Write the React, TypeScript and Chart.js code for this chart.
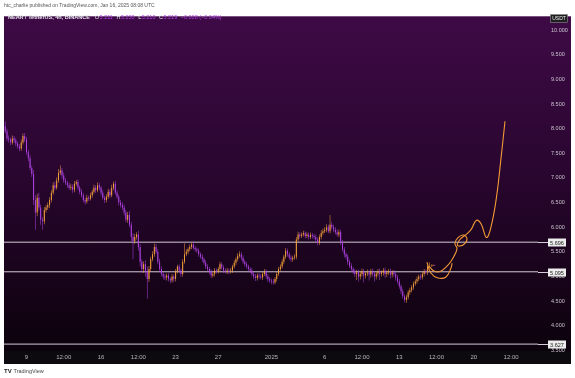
import React, { useEffect, useRef } from 'react';
import { Chart, registerables } from 'chart.js';

Chart.register(...registerables);

// ---- time axis: days counted from Dec 0, 2024 (Jan 1 = 32) ----
const START_DAY = 7; // first candle: Dec 7, 2024 00:00
const CANDLE_STEP = 1 / 6; // 4h candles
const X_MIN = 6.887;
const X_MAX = 57.028;
const Y_MIN = 3.487;
const Y_MAX = 10.281;

const FIRST_OPEN = 8.05;

// closes, one row per day (6 x 4h candles)
const closes = [
  7.95, 7.80, 7.78, 7.72, 7.80, 7.76,
  7.70, 7.64, 7.60, 7.72, 7.85, 7.78,
  7.52, 7.40, 7.20, 7.08, 6.55, 6.30,
  6.60, 6.40, 6.15, 6.12, 6.35, 6.40,
  6.45, 6.55, 6.70, 6.85, 6.80, 6.95,
  7.10, 7.15, 7.05, 6.95, 6.90, 6.85,
  6.80, 6.82, 6.76, 6.88, 6.92, 6.80,
  6.72, 6.65, 6.55, 6.52, 6.60, 6.58,
  6.65, 6.72, 6.80, 6.75, 6.85, 6.80,
  6.70, 6.60, 6.55, 6.62, 6.72, 6.65,
  6.80, 6.88, 6.70, 6.62, 6.50, 6.45,
  6.40, 6.30, 6.15, 6.25, 6.05, 5.80,
  5.72, 5.80, 5.85, 5.60, 5.30, 5.15,
  5.25, 5.10, 4.95, 5.15, 5.35, 5.45,
  5.60, 5.50, 5.30, 5.15, 5.05, 5.00,
  4.98, 5.02, 4.95, 4.92, 5.00, 4.95,
  5.10, 5.20, 5.12, 5.05, 5.30, 5.45,
  5.50, 5.55, 5.60, 5.65, 5.58, 5.55,
  5.52, 5.45, 5.40, 5.35, 5.28, 5.20,
  5.15, 5.10, 5.02, 5.05, 5.12, 5.10,
  5.15, 5.25, 5.18, 5.12, 5.10, 5.12,
  5.10, 5.12, 5.20, 5.28, 5.35, 5.42,
  5.45, 5.38, 5.30, 5.25, 5.20, 5.15,
  5.12, 5.05, 5.00, 4.97, 5.02, 5.00,
  4.98, 5.05, 5.10, 5.00, 4.95, 4.92,
  4.90, 4.88, 4.95, 5.05, 5.15, 5.20,
  5.30, 5.40, 5.52, 5.45, 5.38, 5.35,
  5.38, 5.40, 5.75, 5.85, 5.82, 5.85,
  5.88, 5.82, 5.85, 5.80, 5.84, 5.82,
  5.80, 5.75, 5.68, 5.80, 5.88, 5.92,
  5.95, 6.00, 5.92, 6.05, 6.00, 5.95,
  5.90, 5.85, 5.90, 5.70, 5.55, 5.45,
  5.40, 5.30, 5.22, 5.15, 5.10, 5.05,
  5.08, 5.00, 5.05, 5.10, 5.02, 5.06,
  5.08, 5.04, 5.10, 5.05, 5.00, 5.06,
  5.10, 5.05, 5.08, 5.12, 5.05, 5.08,
  5.10, 5.04, 5.08, 5.05, 4.98, 4.90,
  4.80, 4.70, 4.60, 4.52, 4.58, 4.68,
  4.72, 4.78, 4.85, 4.90, 4.95, 5.00,
  4.98, 5.05, 5.10, 5.08, 5.20, 5.211,
  5.22, 5.227, 5.219,
];

// upper wick length above the body
const wickUp = [
  0.10, 0.05, 0.06, 0.04, 0.06, 0.05,
  0.05, 0.04, 0.05, 0.06, 0.05, 0.06,
  0.05, 0.05, 0.06, 0.05, 0.08, 0.10,
  0.08, 0.10, 0.06, 0.05, 0.06, 0.05,
  0.05, 0.06, 0.05, 0.06, 0.08, 0.06,
  0.08, 0.10, 0.05, 0.06, 0.05, 0.04,
  0.05, 0.06, 0.05, 0.06, 0.04, 0.05,
  0.04, 0.05, 0.04, 0.05, 0.06, 0.04,
  0.05, 0.04, 0.06, 0.05, 0.06, 0.05,
  0.04, 0.05, 0.04, 0.05, 0.06, 0.05,
  0.06, 0.05, 0.06, 0.05, 0.04, 0.05,
  0.05, 0.06, 0.05, 0.06, 0.08, 0.06,
  0.08, 0.06, 0.05, 0.08, 0.06, 0.05,
  0.06, 0.08, 0.10, 0.06, 0.05, 0.06,
  0.07, 0.06, 0.05, 0.06, 0.05, 0.04,
  0.05, 0.04, 0.05, 0.04, 0.05, 0.04,
  0.05, 0.04, 0.05, 0.04, 0.05, 0.22,
  0.05, 0.04, 0.05, 0.04, 0.05, 0.04,
  0.04, 0.05, 0.04, 0.05, 0.04, 0.05,
  0.05, 0.04, 0.05, 0.04, 0.05, 0.04,
  0.04, 0.05, 0.04, 0.05, 0.04, 0.05,
  0.04, 0.05, 0.04, 0.05, 0.04, 0.05,
  0.06, 0.04, 0.05, 0.04, 0.05, 0.04,
  0.04, 0.05, 0.04, 0.05, 0.04, 0.05,
  0.05, 0.04, 0.05, 0.04, 0.05, 0.04,
  0.04, 0.05, 0.04, 0.05, 0.04, 0.05,
  0.05, 0.04, 0.06, 0.05, 0.04, 0.05,
  0.04, 0.05, 0.05, 0.06, 0.05, 0.04,
  0.05, 0.04, 0.05, 0.04, 0.05, 0.04,
  0.04, 0.05, 0.04, 0.05, 0.06, 0.05,
  0.05, 0.06, 0.05, 0.20, 0.06, 0.05,
  0.05, 0.06, 0.05, 0.05, 0.04, 0.05,
  0.04, 0.05, 0.04, 0.05, 0.04, 0.05,
  0.05, 0.06, 0.05, 0.06, 0.05, 0.04,
  0.06, 0.04, 0.05, 0.06, 0.05, 0.04,
  0.05, 0.06, 0.04, 0.05, 0.06, 0.04,
  0.05, 0.06, 0.04, 0.05, 0.04, 0.05,
  0.05, 0.04, 0.05, 0.04, 0.05, 0.04,
  0.05, 0.04, 0.05, 0.04, 0.05, 0.04,
  0.05, 0.04, 0.05, 0.04, 0.05, 0.08,
  0.03, 0.02, 0.011,
];

// lower wick length below the body
const wickDn = [
  0.04, 0.05, 0.06, 0.05, 0.04, 0.05,
  0.05, 0.04, 0.06, 0.05, 0.04, 0.05,
  0.05, 0.06, 0.05, 0.06, 0.10, 0.35,
  0.08, 0.06, 0.10, 0.17, 0.06, 0.05,
  0.05, 0.06, 0.05, 0.04, 0.05, 0.04,
  0.05, 0.04, 0.06, 0.05, 0.04, 0.05,
  0.04, 0.05, 0.06, 0.05, 0.04, 0.05,
  0.05, 0.04, 0.05, 0.06, 0.04, 0.05,
  0.04, 0.05, 0.04, 0.05, 0.04, 0.05,
  0.05, 0.04, 0.06, 0.05, 0.04, 0.05,
  0.04, 0.05, 0.04, 0.05, 0.06, 0.05,
  0.05, 0.06, 0.05, 0.06, 0.05, 0.08,
  0.37, 0.06, 0.05, 0.08, 0.10, 0.08,
  0.08, 0.10, 0.40, 0.06, 0.05, 0.04,
  0.05, 0.04, 0.05, 0.06, 0.05, 0.06,
  0.05, 0.06, 0.05, 0.06, 0.05, 0.06,
  0.05, 0.04, 0.05, 0.06, 0.05, 0.04,
  0.04, 0.05, 0.04, 0.05, 0.04, 0.05,
  0.04, 0.05, 0.04, 0.05, 0.04, 0.05,
  0.05, 0.06, 0.05, 0.04, 0.05, 0.04,
  0.04, 0.05, 0.04, 0.05, 0.04, 0.05,
  0.05, 0.04, 0.05, 0.04, 0.05, 0.04,
  0.04, 0.05, 0.04, 0.05, 0.04, 0.05,
  0.05, 0.04, 0.05, 0.06, 0.05, 0.04,
  0.04, 0.05, 0.04, 0.05, 0.06, 0.05,
  0.06, 0.05, 0.04, 0.05, 0.04, 0.05,
  0.04, 0.05, 0.04, 0.05, 0.04, 0.05,
  0.05, 0.04, 0.05, 0.04, 0.05, 0.04,
  0.04, 0.05, 0.04, 0.05, 0.04, 0.05,
  0.05, 0.04, 0.05, 0.04, 0.05, 0.04,
  0.04, 0.05, 0.04, 0.05, 0.04, 0.05,
  0.05, 0.04, 0.05, 0.06, 0.05, 0.06,
  0.05, 0.06, 0.05, 0.06, 0.05, 0.06,
  0.12, 0.10, 0.06, 0.05, 0.14, 0.06,
  0.05, 0.12, 0.06, 0.05, 0.10, 0.06,
  0.06, 0.12, 0.05, 0.06, 0.08, 0.06,
  0.05, 0.08, 0.06, 0.05, 0.06, 0.05,
  0.05, 0.06, 0.05, 0.05, 0.06, 0.05,
  0.05, 0.04, 0.05, 0.04, 0.05, 0.04,
  0.05, 0.04, 0.05, 0.04, 0.05, 0.04,
  0.02, 0.02, 0.009,
];

// horizontal levels
const levels = [5.696, 5.095, 3.627];

// hand-drawn projection (time in days, price)
const projX = [46.79, 47.26, 47.83, 48.39, 48.86, 49.23, 49.42, 49.23, 49.52, 50.08, 50.36, 49.99, 49.47, 49.70, 50.27, 50.74, 51.25, 51.68, 52.19, 52.62, 53.13, 53.51, 53.93];
const projY = [5.21, 5.11, 5.10, 5.19, 5.31, 5.45, 5.57, 5.67, 5.79, 5.84, 5.75, 5.64, 5.63, 5.75, 5.85, 5.95, 6.14, 6.07, 5.79, 6.01, 6.61, 7.31, 8.15];
const bowlX = [46.6, 46.97, 47.63, 48.39, 48.86, 48.96];
const bowlY = [5.29, 5.07, 4.97, 4.99, 5.17, 5.27];

// axis ticks
const yTicks = [3.5, 4, 4.5, 5, 5.5, 6, 6.5, 7, 7.5, 8, 8.5, 9, 9.5, 10];
const xTickVals = [9, 12.5, 16, 19.5, 23, 27, 32, 37, 40.5, 44, 47.5, 51, 54.5];
const xTickLabels = ['9', '12:00', '16', '12:00', '23', '27', '2025', '6', '12:00', '13', '12:00', '20', '12:00'];

// texts
const ATTRIBUTION = 'htc_charlie published on TradingView.com, Jan 16, 2025 08:08 UTC';
const LEGEND_TITLE = 'NEAR / TetherUS, 4h, BINANCE';
const ohlcKeys = ['O', 'H', 'L', 'C'];
const ohlcVals = ['5.211', '5.230', '5.210', '5.219'];
const CHANGE_TEXT = '\u22120.008 (\u22120.04%)';
const CURRENCY = 'USDT';
const LOGO_TEXT = 'TradingView';

const UP = '#f5a03a';
const DOWN = '#b043e6';
const PROJ = '#f39a35';
const LEVEL = '#d4ccd8';
const FONT = '"Liberation Sans", Arial, sans-serif';

export default function App() {
  const ref = useRef<HTMLCanvasElement>(null);

  useEffect(() => {
    document.body.style.margin = '0';
    const canvas = ref.current;
    if (!canvas) return;

    const opens = closes.map((c, i) => (i === 0 ? FIRST_OPEN : closes[i - 1]));
    const xs = closes.map((_, i) => START_DAY + i * CANDLE_STEP);
    const colors = closes.map((c, i) => (c >= opens[i] ? UP : DOWN));
    const bodies = closes.map((c, i) => ({ x: xs[i], y: [opens[i], c] }));
    const wicks = closes.map((c, i) => ({
      x: xs[i],
      y: [Math.min(opens[i], c) - wickDn[i], Math.max(opens[i], c) + wickUp[i]],
    }));
    const proj = projX.map((x, i) => ({ x, y: projY[i] }));
    const bowl = bowlX.map((x, i) => ({ x, y: bowlY[i] }));

    const bgPlugin = {
      id: 'bg',
      beforeDraw(chart: any) {
        const { ctx, chartArea } = chart;
        ctx.save();
        ctx.fillStyle = '#ffffff';
        ctx.fillRect(0, 0, chart.width, chart.height);
        const g = ctx.createLinearGradient(0, chartArea.top, 0, chartArea.bottom);
        g.addColorStop(0, '#3e0a46');
        g.addColorStop(0.45, '#2a0630');
        g.addColorStop(1, '#0c020c');
        ctx.fillStyle = g;
        ctx.fillRect(4, chartArea.top, 567, chartArea.bottom - chartArea.top);
        ctx.fillStyle = '#0c0a0e';
        ctx.fillRect(4, chartArea.bottom, 567, 13);
        // attribution
        ctx.fillStyle = '#555555';
        ctx.font = `5px ${FONT}`;
        ctx.textBaseline = 'middle';
        ctx.textAlign = 'left';
        ctx.fillText(ATTRIBUTION, 4, 6);
        // logo
        ctx.fillStyle = '#222222';
        ctx.font = `bold 6px ${FONT}`;
        ctx.fillText('TV', 4, 371);
        ctx.fillStyle = '#444444';
        ctx.font = `5.5px ${FONT}`;
        ctx.fillText(LOGO_TEXT, 13.5, 371);
        ctx.restore();
      },
    };

    const overlayPlugin = {
      id: 'overlay',
      afterDraw(chart: any) {
        const { ctx, chartArea } = chart;
        const ys = chart.scales.y;
        ctx.save();
        ctx.textBaseline = 'middle';
        // level extensions + boxes
        levels.forEach((l) => {
          const y = Math.round(ys.getPixelForValue(l)) + 0.5;
          ctx.strokeStyle = LEVEL;
          ctx.lineWidth = 1;
          ctx.beginPath();
          ctx.moveTo(chartArea.right, y);
          ctx.lineTo(548, y);
          ctx.stroke();
          ctx.fillStyle = '#ececec';
          ctx.fillRect(548, y - 4, 18, 8);
          ctx.fillStyle = '#1a1a1a';
          ctx.font = `5.5px ${FONT}`;
          ctx.textAlign = 'center';
          ctx.fillText(l.toFixed(3), 557, y + 0.5);
        });
        // currency box
        ctx.fillStyle = '#1f1f22';
        ctx.fillRect(550.5, 14.5, 17, 8);
        ctx.strokeStyle = '#8a8a90';
        ctx.lineWidth = 0.6;
        ctx.strokeRect(550.5, 14.5, 17, 8);
        ctx.fillStyle = '#f0f0f0';
        ctx.font = `5px ${FONT}`;
        ctx.textAlign = 'center';
        ctx.fillText(CURRENCY, 559, 18.7);
        // legend
        ctx.textAlign = 'left';
        ctx.font = `bold 5.5px ${FONT}`;
        ctx.fillStyle = '#e8e8ec';
        let x = 8;
        const ly = 17.5;
        ctx.fillText(LEGEND_TITLE, x, ly);
        x += ctx.measureText(LEGEND_TITLE).width + 5;
        ctx.font = `5.5px ${FONT}`;
        ohlcKeys.forEach((k, i) => {
          ctx.fillStyle = '#e8e8ec';
          ctx.fillText(k, x, ly);
          x += ctx.measureText(k).width + 0.5;
          ctx.fillStyle = DOWN;
          ctx.fillText(ohlcVals[i], x, ly);
          x += ctx.measureText(ohlcVals[i]).width + 3.5;
        });
        ctx.fillStyle = DOWN;
        ctx.fillText(CHANGE_TEXT, x, ly);
        ctx.restore();
      },
    };

    const chart = new Chart(canvas, {
      type: 'bar',
      data: {
        datasets: [
          {
            type: 'line',
            data: proj,
            borderColor: PROJ,
            borderWidth: 1.1,
            pointRadius: 0,
            tension: 0.4,
            order: 0,
          } as any,
          {
            type: 'line',
            data: bowl,
            borderColor: PROJ,
            borderWidth: 1.1,
            pointRadius: 0,
            tension: 0.4,
            order: 0,
          } as any,
          {
            data: bodies,
            backgroundColor: colors,
            borderWidth: 0,
            inflateAmount: 0,
            barThickness: 1.0,
            grouped: false,
            order: 1,
          } as any,
          {
            data: wicks,
            backgroundColor: colors,
            borderWidth: 0,
            inflateAmount: 0,
            barThickness: 0.5,
            grouped: false,
            order: 2,
          } as any,
          ...levels.map(
            (l) =>
              ({
                type: 'line',
                data: [
                  { x: X_MIN, y: l },
                  { x: X_MAX, y: l },
                ],
                borderColor: LEVEL,
                borderWidth: 1,
                pointRadius: 0,
                order: 3,
              }) as any,
          ),
        ],
      },
      options: {
        responsive: false,
        animation: false,
        devicePixelRatio: 1,
        layout: { padding: { left: 4, top: 12, right: 4, bottom: 14 } },
        plugins: { legend: { display: false }, tooltip: { enabled: false } },
        scales: {
          x: {
            type: 'linear',
            min: X_MIN,
            max: X_MAX,
            offset: false,
            grid: { display: false, drawTicks: false },
            border: { display: false },
            afterBuildTicks: (s: any) => {
              s.ticks = xTickVals.map((v) => ({ value: v }));
            },
            afterFit: (s: any) => {
              s.height = 13;
            },
            ticks: {
              autoSkip: false,
              maxRotation: 0,
              padding: 3,
              color: '#b8b6bd',
              font: { size: 6, family: FONT },
              callback: (_v: any, i: number) => xTickLabels[i],
            },
          },
          y: {
            type: 'linear',
            position: 'right',
            min: Y_MIN,
            max: Y_MAX,
            grid: { display: false, drawTicks: false },
            border: { display: false },
            afterBuildTicks: (s: any) => {
              s.ticks = yTicks.map((v) => ({ value: v }));
            },
            afterFit: (s: any) => {
              s.width = 33;
            },
            ticks: {
              padding: 13,
              color: '#cbc4d0',
              font: { size: 5.5, family: FONT },
              callback: (v: any) => Number(v).toFixed(3),
            },
          },
        },
      } as any,
      plugins: [bgPlugin, overlayPlugin],
    });

    return () => chart.destroy();
  }, []);

  return (
    <canvas
      ref={ref}
      width={575}
      height={378}
      style={{ display: 'block', width: 575, height: 378 }}
    />
  );
}
